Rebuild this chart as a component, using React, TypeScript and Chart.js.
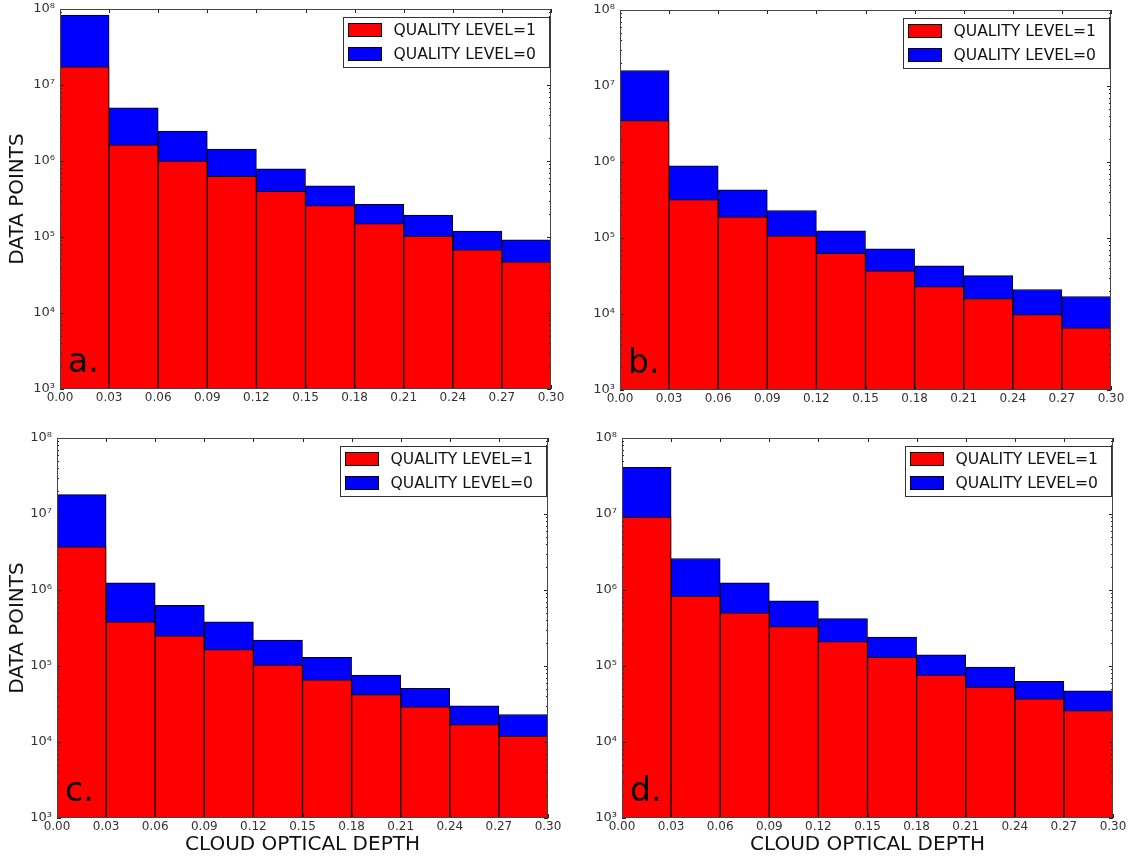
import React, { useEffect, useRef } from 'react';
import { Chart, registerables } from 'chart.js';

Chart.register(...registerables);

// ---------- data ----------
const binCenters = [0.015, 0.045, 0.075, 0.105, 0.135, 0.165, 0.195, 0.225, 0.255, 0.285];
const xTickValues = [0, 0.03, 0.06, 0.09, 0.12, 0.15, 0.18, 0.21, 0.24, 0.27, 0.3];
const xTickLabels = ['0.00', '0.03', '0.06', '0.09', '0.12', '0.15', '0.18', '0.21', '0.24', '0.27', '0.30'];
const yTickValues = [1e3, 1e4, 1e5, 1e6, 1e7, 1e8];
const yTickLabels = ['10³', '10⁴', '10⁵', '10⁶', '10⁷', '10⁸'];
const seriesLabels = ['QUALITY LEVEL=1', 'QUALITY LEVEL=0'];
const seriesColors = ['#ff0000', '#0000ff'];
const yTitle = 'DATA POINTS';
const xTitle = 'CLOUD OPTICAL DEPTH';

const panelA_level1 = [1.73e7, 1.63e6, 1.0e6, 6.3e5, 4.0e5, 2.6e5, 1.5e5, 1.03e5, 6.8e4, 4.7e4];
const panelA_level0 = [8.3e7, 5.0e6, 2.48e6, 1.44e6, 7.9e5, 4.7e5, 2.7e5, 1.95e5, 1.2e5, 9.2e4];

const panelB_level1 = [3.5e6, 3.2e5, 1.9e5, 1.07e5, 6.3e4, 3.7e4, 2.3e4, 1.6e4, 9.8e3, 6.6e3];
const panelB_level0 = [1.6e7, 8.9e5, 4.3e5, 2.3e5, 1.24e5, 7.2e4, 4.3e4, 3.2e4, 2.1e4, 1.7e4];

const panelC_level1 = [3.7e6, 3.8e5, 2.5e5, 1.65e5, 1.03e5, 6.6e4, 4.2e4, 2.9e4, 1.7e4, 1.2e4];
const panelC_level0 = [1.8e7, 1.24e6, 6.3e5, 3.8e5, 2.2e5, 1.3e5, 7.6e4, 5.1e4, 3.0e4, 2.3e4];

const panelD_level1 = [9.1e6, 8.3e5, 5.0e5, 3.3e5, 2.1e5, 1.3e5, 7.6e4, 5.3e4, 3.7e4, 2.6e4];
const panelD_level0 = [4.1e7, 2.6e6, 1.24e6, 7.2e5, 4.2e5, 2.4e5, 1.4e5, 9.7e4, 6.3e4, 4.7e4];

const FONT = '"DejaVu Sans", "Liberation Sans", sans-serif';

type PanelProps = {
  left: number;
  top: number;
  width: number;
  height: number;
  yAxisWidth: number;
  padTop: number;
  padRight: number;
  xAxisHeight: number;
  showYTitle: boolean;
  showXTitle: boolean;
  letter: string;
  level1: number[];
  level0: number[];
};

function Panel(p: PanelProps) {
  const ref = useRef<HTMLCanvasElement | null>(null);

  useEffect(() => {
    if (!ref.current) return;

    const decorPlugin = {
      id: 'decor',
      afterDatasetsDraw(chart: any) {
        const ctx = chart.ctx;
        const ca = chart.chartArea;
        const xs = chart.scales.x;
        const ys = chart.scales.y;
        ctx.save();
        ctx.strokeStyle = '#222';
        ctx.lineWidth = 1;
        ctx.beginPath();
        // x ticks (inward, top & bottom)
        for (const v of xTickValues) {
          const px = Math.round(xs.getPixelForValue(v)) + 0.5;
          ctx.moveTo(px, ca.bottom);
          ctx.lineTo(px, ca.bottom - 4);
          ctx.moveTo(px, ca.top);
          ctx.lineTo(px, ca.top + 4);
        }
        // y ticks major & minor
        for (let k = 0; k < yTickValues.length; k++) {
          const base = yTickValues[k];
          const py = Math.round(ys.getPixelForValue(base)) + 0.5;
          ctx.moveTo(ca.left, py);
          ctx.lineTo(ca.left + 4, py);
          ctx.moveTo(ca.right, py);
          ctx.lineTo(ca.right - 4, py);
          if (k < yTickValues.length - 1) {
            for (let m = 2; m <= 9; m++) {
              const pm = Math.round(ys.getPixelForValue(base * m)) + 0.5;
              ctx.moveTo(ca.left, pm);
              ctx.lineTo(ca.left + 2, pm);
              ctx.moveTo(ca.right, pm);
              ctx.lineTo(ca.right - 2, pm);
            }
          }
        }
        ctx.stroke();
        // frame
        ctx.strokeStyle = '#444';
        ctx.strokeRect(Math.round(ca.left) + 0.5, Math.round(ca.top) + 0.5,
          Math.round(ca.right - ca.left) - 1, Math.round(ca.bottom - ca.top) - 1);

        // panel letter
        ctx.fillStyle = '#000';
        ctx.font = `33px ${FONT}`;
        ctx.textBaseline = 'alphabetic';
        ctx.textAlign = 'left';
        ctx.fillText(p.letter, ca.left + 8, ca.bottom - 17);

        // legend
        const bw = 206;
        const bh = 50;
        const bx = Math.round(ca.right - 2 - bw) + 0.5;
        const by = Math.round(ca.top + 8) + 0.5;
        ctx.fillStyle = '#fff';
        ctx.fillRect(bx, by, bw, bh);
        ctx.strokeStyle = '#333';
        ctx.strokeRect(bx, by, bw, bh);
        ctx.font = `15.6px ${FONT}`;
        ctx.textBaseline = 'middle';
        chart.data.datasets.forEach((ds: any, i: number) => {
          const sy = by + 6 + i * 24;
          ctx.fillStyle = ds.backgroundColor;
          ctx.fillRect(bx + 5, sy, 33, 13);
          ctx.strokeStyle = '#000';
          ctx.strokeRect(bx + 5, sy, 33, 13);
          ctx.fillStyle = '#111';
          ctx.fillText(ds.label, bx + 50, sy + 7);
        });
        ctx.restore();
      },
    };

    const chart = new Chart(ref.current, {
      type: 'bar',
      data: {
        datasets: [
          {
            label: seriesLabels[0],
            data: binCenters.map((x, i) => ({ x, y: p.level1[i] })),
            backgroundColor: seriesColors[0],
            borderColor: '#000',
            borderWidth: 1,
            grouped: false,
            order: 0,
            barPercentage: 1,
            categoryPercentage: 1,
          },
          {
            label: seriesLabels[1],
            data: binCenters.map((x, i) => ({ x, y: p.level0[i] })),
            backgroundColor: seriesColors[1],
            borderColor: '#000',
            borderWidth: 1,
            grouped: false,
            order: 1,
            barPercentage: 1,
            categoryPercentage: 1,
          },
        ] as any,
      },
      options: {
        responsive: false,
        animation: false,
        layout: { padding: { top: p.padTop, right: p.padRight, left: 0, bottom: 0 } },
        plugins: {
          legend: { display: false },
          tooltip: { enabled: false },
        },
        scales: {
          x: {
            type: 'linear',
            min: 0,
            max: 0.3,
            offset: false,
            grid: { display: false, drawTicks: false },
            border: { display: false },
            afterBuildTicks: (scale: any) => {
              scale.ticks = xTickValues.map((v) => ({ value: v }));
            },
            afterFit: (scale: any) => {
              scale.height = p.xAxisHeight;
              scale.paddingLeft = 0;
              scale.paddingRight = 0;
            },
            ticks: {
              autoSkip: false,
              maxRotation: 0,
              padding: 2,
              color: '#333',
              font: { family: FONT, size: 12 },
              callback: (_v: any, i: number) => xTickLabels[i],
            },
            title: {
              display: p.showXTitle,
              text: xTitle,
              color: '#111',
              font: { family: FONT, size: 20 },
              padding: { top: 0, bottom: 2 },
            },
          },
          y: {
            type: 'logarithmic',
            min: 1e3,
            max: 1e8,
            grid: { display: false, drawTicks: false },
            border: { display: false },
            afterBuildTicks: (scale: any) => {
              scale.ticks = yTickValues.map((v) => ({ value: v }));
            },
            afterFit: (scale: any) => {
              scale.width = p.yAxisWidth;
              scale.paddingTop = 0;
              scale.paddingBottom = 0;
            },
            ticks: {
              autoSkip: false,
              padding: 5,
              color: '#333',
              font: { family: FONT, size: 13 },
              callback: (_v: any, i: number) => yTickLabels[i],
            },
            title: {
              display: p.showYTitle,
              text: yTitle,
              color: '#111',
              font: { family: FONT, size: 20 },
              padding: { top: 6, bottom: 0 },
            },
          },
        } as any,
      },
      plugins: [decorPlugin],
    });

    return () => chart.destroy();
  }, []);

  return (
    <canvas
      ref={ref}
      width={p.width}
      height={p.height}
      style={{ position: 'absolute', left: p.left, top: p.top, width: p.width, height: p.height }}
    />
  );
}

export default function App() {
  return (
    <div style={{ position: 'absolute', left: 0, top: 0, width: 1137, height: 859, background: '#fff' }}>
      <Panel left={0} top={0} width={565} height={425} yAxisWidth={60} padTop={9} padRight={14}
        xAxisHeight={36} showYTitle={true} showXTitle={false} letter="a."
        level1={panelA_level1} level0={panelA_level0} />
      <Panel left={565} top={0} width={572} height={425} yAxisWidth={55} padTop={10} padRight={26}
        xAxisHeight={35} showYTitle={false} showXTitle={false} letter="b."
        level1={panelB_level1} level0={panelB_level0} />
      <Panel left={0} top={425} width={565} height={434} yAxisWidth={57} padTop={13} padRight={17}
        xAxisHeight={41} showYTitle={true} showXTitle={true} letter="c."
        level1={panelC_level1} level0={panelC_level0} />
      <Panel left={565} top={425} width={572} height={434} yAxisWidth={57} padTop={13} padRight={24}
        xAxisHeight={41} showYTitle={false} showXTitle={true} letter="d."
        level1={panelD_level1} level0={panelD_level0} />
    </div>
  );
}
